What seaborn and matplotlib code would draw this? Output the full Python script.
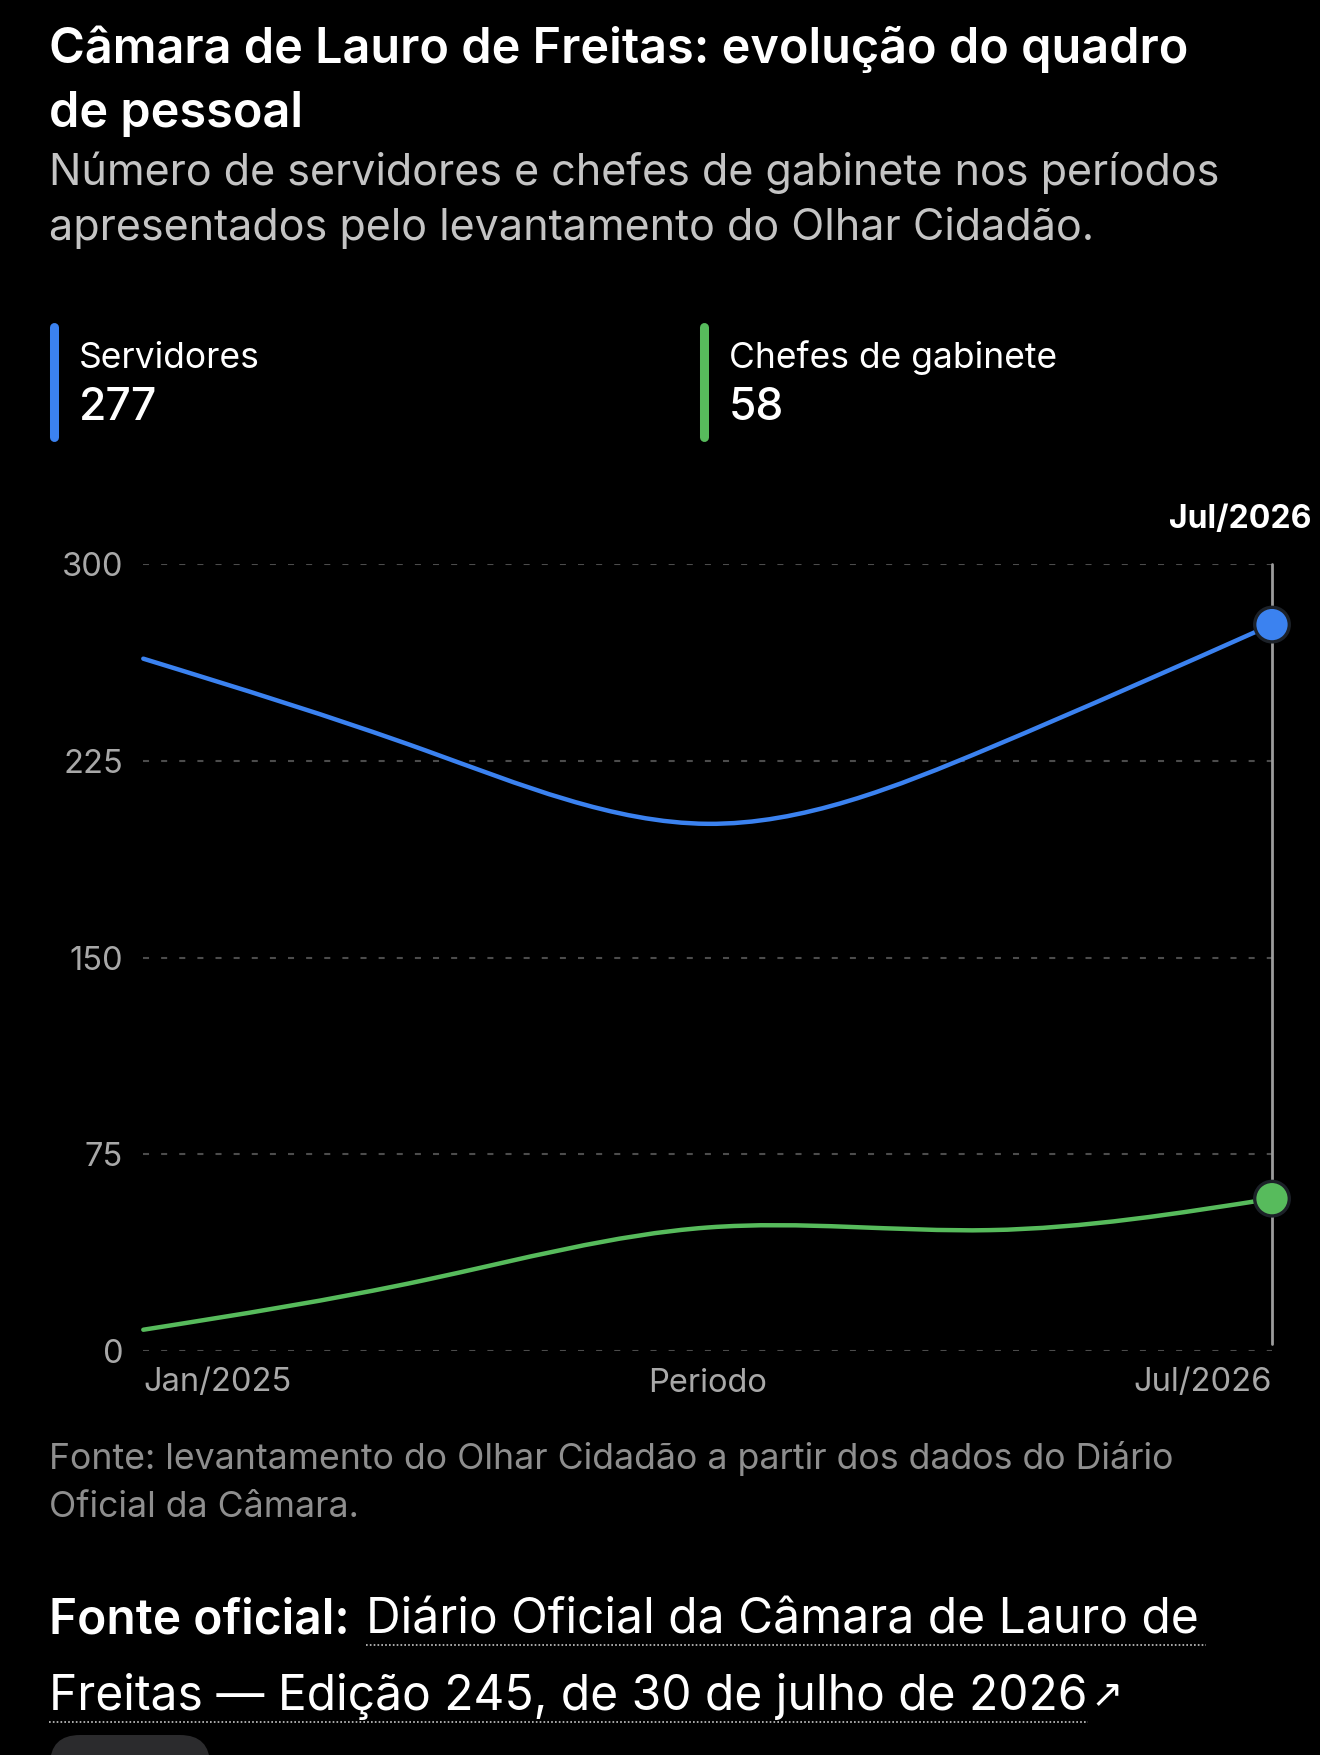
import numpy as np
import pandas as pd
import matplotlib
matplotlib.use("Agg")
import matplotlib.pyplot as plt
import seaborn as sns
from matplotlib.path import Path
from matplotlib.patches import PathPatch, FancyBboxPatch
from matplotlib.lines import Line2D
from matplotlib.transforms import IdentityTransform

# data
periodos = ["Jan/2025", "Mai/2025", "Out/2025", "Fev/2026", "Jul/2026"]
servidores = [264, 229, 201, 230, 277]
chefes = [8, 27, 47, 46, 58]
series_names = ["Servidores", "Chefes de gabinete"]
series_colors = ["#3b82f0", "#57bb5c"]
yticks = [0, 75, 150, 225, 300]

titulo = ["Câmara de Lauro de Freitas: evolução do quadro", "de pessoal"]
subtitulo = ["Número de servidores e chefes de gabinete nos períodos",
             "apresentados pelo levantamento do Olhar Cidadão."]
nota = ["Fonte: levantamento do Olhar Cidadão a partir dos dados do Diário",
        "Oficial da Câmara."]
link = ["Diário Oficial da Câmara de Lauro de",
        "Freitas — Edição 245, de 30 de julho de 2026"]

df = pd.DataFrame({"periodo": periodos, "Servidores": servidores,
                   "Chefes de gabinete": chefes})
df["x"] = np.arange(len(df))

sns.set_theme(style="dark")
plt.rcParams["font.family"] = ["Inter", "DejaVu Sans"]
plt.rcParams["axes.facecolor"] = "black"
plt.rcParams["figure.facecolor"] = "black"

W, H = 1320, 1755
fig = plt.figure(figsize=(W / 100, H / 100), dpi=100)


def ftext(x, y, s, **kw):
    return fig.text(x / W, 1 - y / H, s, va="baseline", **kw)


def natural_path(xs, ys):
    # bezier control points of a natural cubic spline (same as d3.curveNatural)
    def ctrl(v):
        v = list(map(float, v))
        n = len(v) - 1
        a = [0.0] * n
        b = [0.0] * n
        r = [0.0] * n
        a[0], b[0], r[0] = 0, 2, v[0] + 2 * v[1]
        for i in range(1, n - 1):
            a[i], b[i], r[i] = 1, 4, 4 * v[i] + 2 * v[i + 1]
        a[n - 1], b[n - 1], r[n - 1] = 2, 7, 8 * v[n - 1] + v[n]
        for i in range(1, n):
            m = a[i] / b[i - 1]
            b[i] -= m
            r[i] -= m * r[i - 1]
        a[n - 1] = r[n - 1] / b[n - 1]
        for i in range(n - 2, -1, -1):
            a[i] = (r[i] - a[i + 1]) / b[i]
        b[n - 1] = (v[n] + a[n - 1]) / 2
        for i in range(n - 1):
            b[i] = 2 * v[i + 1] - a[i + 1]
        return a, b

    ax_, bx_ = ctrl(xs)
    ay_, by_ = ctrl(ys)
    verts = [(xs[0], ys[0])]
    codes = [Path.MOVETO]
    for i in range(len(xs) - 1):
        verts += [(ax_[i], ay_[i]), (bx_[i], by_[i]), (xs[i + 1], ys[i + 1])]
        codes += [Path.CURVE4] * 3
    return Path(verts, codes)


# titles
ftext(49, 63, titulo[0], color="white", fontsize=35, fontweight="semibold")
ftext(49, 127, titulo[1], color="white", fontsize=35, fontweight="semibold")
ftext(49, 185, subtitulo[0], color="#c4c4c4", fontsize=31)
ftext(49, 240, subtitulo[1], color="#c4c4c4", fontsize=31)

# legend blocks
for name, col, vals, x0 in zip(series_names, series_colors,
                               [servidores, chefes], [54, 704]):
    fig.add_artist(Line2D([x0, x0], [H - 327, H - 437], color=col, lw=6.5,
                          solid_capstyle="round", transform=IdentityTransform()))
    ftext(x0 + 25, 368, name, color="white", fontsize=25.5)
    ftext(x0 + 25, 420, f"{vals[-1]}", color="white", fontsize=32,
          fontweight="medium")

# chart
ax = fig.add_axes([143.3 / W, 1 - 1350.7 / H, (1272 - 143.3) / W,
                   (1350.7 - 564.3) / H])
ax.set_facecolor("black")
ax.set_xlim(0, len(periodos) - 1)
ax.set_ylim(0, 300)
for s in ax.spines.values():
    s.set_visible(False)
ax.set_yticks(yticks)
ax.set_yticklabels([str(v) for v in yticks])
ax.yaxis.grid(True, color="#4c4c4c", lw=1.5, linestyle=(0, (2.9, 5.8)))
ax.xaxis.grid(False)
ax.tick_params(axis="y", length=0, pad=14.5, labelsize=23.5, labelcolor="#a8a8a8")
ax.set_xticks([0, len(periodos) - 1])
ax.set_xticklabels([periodos[0], periodos[-1]])
ax.tick_params(axis="x", length=0, pad=12, labelsize=23.5, labelcolor="#a8a8a8")
lbls = ax.get_xticklabels()
lbls[0].set_ha("left")
lbls[-1].set_ha("right")
ax.set_xlabel("Periodo", color="#a8a8a8", fontsize=23.5, va="baseline")
ax.xaxis.set_label_coords(0.5, -(1391.7 - 1350.7) / (1350.7 - 564.3))

# cursor line at the last period
ax.axvline(df["x"].iloc[-1], ymin=2.5 / 300, ymax=1, color="#9c9c9c", lw=2,
           clip_on=False, zorder=3)

for name, col in zip(series_names, series_colors):
    p = natural_path(df["x"].values, df[name].values)
    ax.add_patch(PathPatch(p, facecolor="none", edgecolor=col, lw=3.2,
                           capstyle="round", clip_on=False, zorder=4))

last = pd.DataFrame({"x": [df["x"].iloc[-1]] * 2,
                     "valor": [df[n].iloc[-1] for n in series_names],
                     "serie": series_names})
sns.scatterplot(data=last, x="x", y="valor", hue="serie",
                palette=dict(zip(series_names, series_colors)), s=620,
                edgecolor="#1c2128", linewidth=2.4, legend=False, ax=ax,
                zorder=6, clip_on=False)
ax.set_ylabel("")

ftext(1311, 527.7, periodos[-1], color="white", fontsize=23,
      fontweight="bold", ha="right")

# footnote
ftext(49, 1469, nota[0], color="#8e8e8e", fontsize=25.7)
ftext(49, 1517, nota[1], color="#8e8e8e", fontsize=25.7)

# official source with dotted underline
renderer = fig.canvas.get_renderer()
t0 = ftext(49, 1633, "Fonte oficial:", color="white", fontsize=34.5,
           fontweight="semibold")
e0 = t0.get_window_extent(renderer)
x1 = e0.x1 + 16
t1 = ftext(x1, 1633, link[0], color="white", fontsize=34.5)
e1 = t1.get_window_extent(renderer)
t2 = ftext(49, 1710, link[1], color="white", fontsize=34.5)
e2 = t2.get_window_extent(renderer)
ftext(e2.x1 + 3, 1706, "↗", color="white", fontsize=28,
      family=["DejaVu Sans"])
for xa, xb, yy in [(x1, e1.x1 + 8, 1645), (49, e2.x1, 1722)]:
    fig.add_artist(Line2D([xa, xb], [H - yy, H - yy], color="#c8c8c8", lw=1.2,
                          linestyle=(0, (1, 1.3)), transform=IdentityTransform()))

# partial button at the bottom
fig.add_artist(FancyBboxPatch((50, -40), 160, 60,
                              boxstyle="round,pad=0,rounding_size=30",
                              facecolor="#2b2b2d", edgecolor="none",
                              transform=IdentityTransform()))

fig.savefig("out.png", dpi=100, facecolor="black")
